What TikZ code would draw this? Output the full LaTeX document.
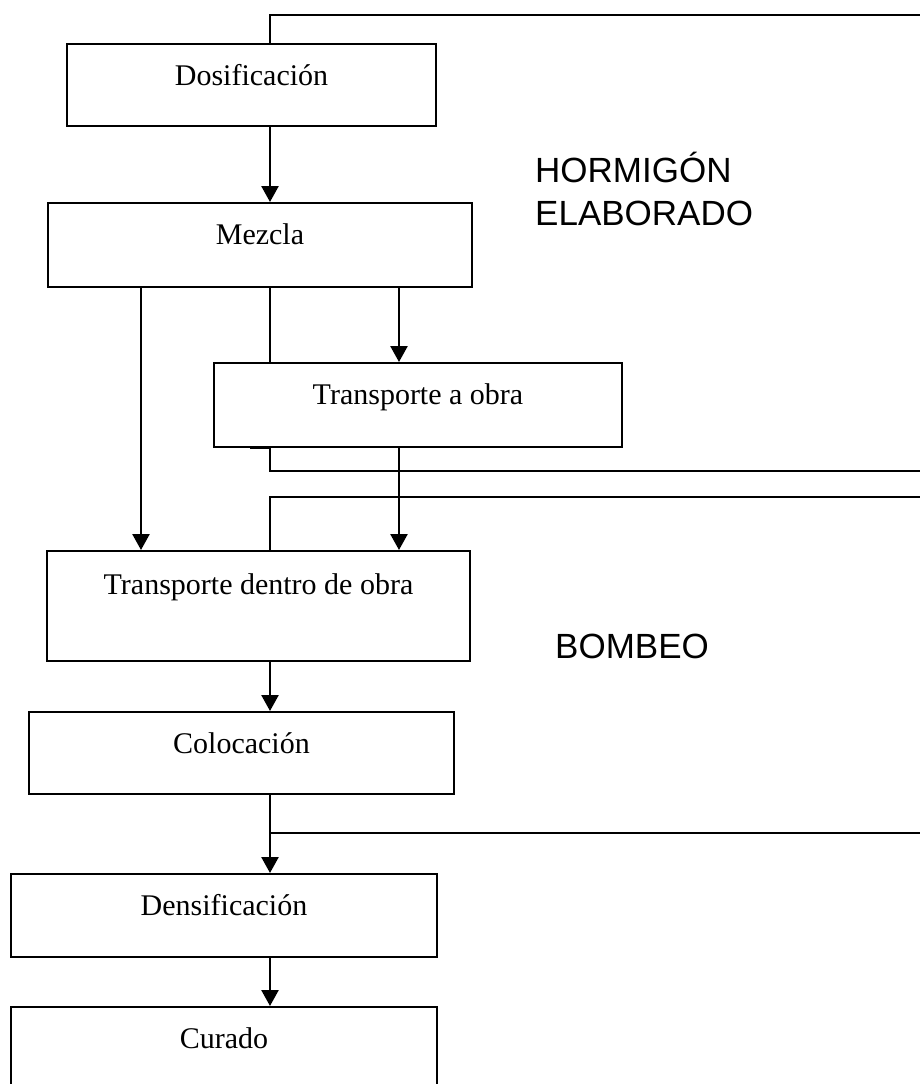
\documentclass[tikz,border=0pt]{standalone}
\usepackage{fontspec}
\setmainfont{Liberation Serif}
\newfontfamily\lblfont{Liberation Sans}
\usetikzlibrary{arrows.meta,calc}
\tikzset{
  box/.style={draw=black, line width=1.8pt, inner sep=0pt, anchor=north,
    font=\fontsize{30}{36}\selectfont, text height=42pt},
  lbl/.style={inner sep=0pt, anchor=base west, font=\lblfont\fontsize{35}{42}\selectfont},
  conn/.style={draw=black, line width=1.6pt},
  arr/.style={draw=black, line width=2.5pt, -{Triangle[width=17pt,length=16pt]}},
}
\begin{document}
\begin{tikzpicture}[x=1pt,y=-1pt]
\useasboundingbox (0,0) rectangle (920,1084);
\clip (0,0) rectangle (920,1084);
% column coordinates
\coordinate (xa) at (270,0);
\coordinate (xb) at (141,0);
\coordinate (xc) at (399,0);
\coordinate (t1) at (920,15);
\coordinate (t2) at (920,471);
\coordinate (t3) at (920,497);
\coordinate (t4) at (920,833);
% boxes
\node[box, minimum width=369pt, text depth=40pt] (dos) at (251.5,43) {Dosificación};
\node[box, minimum width=424pt, text depth=42pt] (mez) at (260,202) {Mezcla};
\node[box, minimum width=408pt, text depth=42pt] (tao) at (418,362) {Transporte a obra};
\node[box, minimum width=423pt, text height=44pt, text depth=66pt] (tdo) at (258.5,550) {Transporte dentro de obra};
\node[box, minimum width=425pt, text depth=40pt] (col) at (241.5,711) {Colocación};
\node[box, minimum width=426pt, text depth=41pt] (den) at (224,873) {Densificación};
\node[box, minimum width=426pt, text depth=70pt] (cur) at (224,1006) {Curado};
% labels
\node[lbl] (hor) at (535,182) {HORMIGÓN};
\node[lbl] (ela) at (535,225) {ELABORADO};
\node[lbl] (bom) at (555,658) {BOMBEO};
% connectors
\draw[conn] (dos.north -| xa) |- (t1);
\draw[arr] (dos.south -| xa) -- (mez.north -| xa);
\draw[arr] (mez.south -| xb) -- (tdo.north -| xb);
\draw[conn] (mez.south -| xa) -- (tao.north -| xa);
\draw[arr] (mez.south -| xc) -- (tao.north -| xc);
\draw[draw=black, line width=3pt] ($(tao.south -| xa)+(-20,0)$) -- (tao.south -| xa);
\draw[conn] (tao.south -| xa) |- (t2);
\draw[conn] (tdo.north -| xa) |- (t3);
\draw[arr] (tao.south -| xc) -- (tdo.north -| xc);
\draw[arr] (tdo.south -| xa) -- (col.north -| xa);
\draw[arr] (col.south -| xa) -- (den.north -| xa);
\draw[conn] (t4 -| xa) -- (t4);
\draw[arr] (den.south -| xa) -- (cur.north -| xa);
\end{tikzpicture}
\end{document}
